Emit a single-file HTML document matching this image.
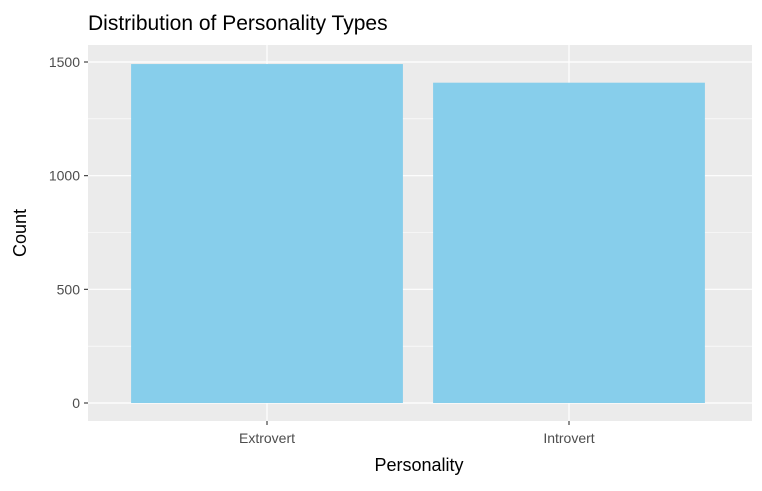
<!DOCTYPE html>
<html><head><meta charset="utf-8"><style>
body{margin:0;background:#fff;font-family:"Liberation Sans",Arial,sans-serif}
</style></head><body>
<svg id="chart" width="762" height="486" xmlns="http://www.w3.org/2000/svg">
<text x="88" y="30" font-size="21" fill="#000">Distribution of Personality Types</text>
<rect x="88" y="45" width="664" height="376" fill="#ebebeb"/>
<g id="grid"></g><g id="bars"></g><g id="axes"></g>
<text x="419" y="471" font-size="18" text-anchor="middle" fill="#000">Personality</text>
<text x="26" y="233" font-size="18" text-anchor="middle" fill="#000" transform="rotate(-90 26 233)">Count</text>
</svg>
<script>
const categories=["Extrovert","Introvert"];
const counts=[1491,1409];
const yTicks=[0,500,1000,1500];
const NS="http://www.w3.org/2000/svg";
const y0=403,pxPerUnit=(403-62)/1500;
function yScale(v){return y0-v*pxPerUnit;}
const catStart=267,catStep=302;
function xScale(i){return catStart+i*catStep;}
function mk(tag,attrs,parent){const e=document.createElementNS(NS,tag);for(const k in attrs)e.setAttribute(k,attrs[k]);parent.appendChild(e);return e;}
const grid=document.getElementById('grid'),bars=document.getElementById('bars'),axes=document.getElementById('axes');
for(let i=0;i<yTicks.length-1;i++){
  const m=(yTicks[i]+yTicks[i+1])/2;
  const l=mk('line',{x1:88,x2:752,y1:yScale(m),y2:yScale(m),stroke:'#fff','stroke-width':0.6},grid);
  
  
}
mk('line',{x1:88,x2:752,y1:yScale(1750),y2:yScale(1750),stroke:'#fff','stroke-width':0.6},grid);
yTicks.forEach(t=>{
  const y=yScale(t);
  const g=mk('line',{x1:88,x2:752,y1:y,y2:y,stroke:'#fff','stroke-width':1.2},grid);
  
  
  mk('line',{x1:84,x2:88,y1:y,y2:y,stroke:'#333','stroke-width':1.1},axes);
  const tx=mk('text',{x:80,y:y+5,'font-size':14,'text-anchor':'end',fill:'#4d4d4d'},axes);
  tx.textContent=t;
  
  
});
categories.forEach((c,i)=>{
  const x=xScale(i);
  mk('line',{x1:x,x2:x,y1:45,y2:421,stroke:'#fff','stroke-width':1.2},grid);
  const w=catStep*0.9;
  const b=mk('rect',{x:x-w/2,y:yScale(counts[i]),width:w,height:yScale(0)-yScale(counts[i]),fill:'#87ceeb'},bars);
  
  
  mk('line',{x1:x,x2:x,y1:421,y2:425,stroke:'#333','stroke-width':1.1},axes);
  const tx=mk('text',{x:x,y:443,'font-size':14,'text-anchor':'middle',fill:'#4d4d4d'},axes);
  tx.textContent=c;
  
  
});
</script>
</body></html>
